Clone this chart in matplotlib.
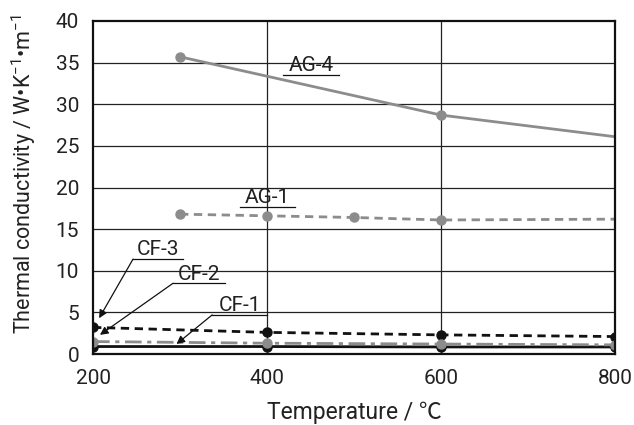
"""
Thermal conductivity of AG / CF samples versus temperature.
"""
import matplotlib
matplotlib.use('Agg')
import matplotlib.pyplot as plt

FONT = ['Roboto', 'Noto Sans CJK JP', 'DejaVu Sans']
plt.rcParams['font.family'] = FONT
plt.rcParams['mathtext.fontset'] = 'custom'
plt.rcParams['mathtext.rm'] = 'Roboto'
plt.rcParams['mathtext.default'] = 'regular'

# --- data ---
ag4_temp = [300, 600, 800]
ag4_k = [35.7, 28.7, 26.1]

ag1_temp = [300, 400, 500, 600, 800]
ag1_k = [16.8, 16.6, 16.4, 16.1, 16.2]

cf_temp = [200, 400, 600, 800]
cf3_k = [3.2, 2.6, 2.3, 2.1]
cf2_k = [1.5, 1.3, 1.2, 1.1]
cf1_k = [0.9, 0.9, 0.85, 0.85]

x_ticks = [200, 400, 600, 800]
y_ticks = [0, 5, 10, 15, 20, 25, 30, 35, 40]

# label name, underline start (x, y), underline end x, arrow tip or None
labels = [
    ('AG-4', (418, 33.5), 483, None),
    ('AG-1', (369, 17.7), 432, None),
    ('CF-3', (246, 11.4), 303, (207, 4.3)),
    ('CF-2', (292, 8.5), 352, (208, 2.3)),
    ('CF-1', (337, 4.7), 400, (296, 1.2)),
]

GRAY = '#8c8c8c'
BLACK = '#111111'
TEXT = '#222222'
FS = 15

fig, ax = plt.subplots(figsize=(6.34, 4.25), dpi=100)
plt.subplots_adjust(left=0.1467, right=0.970, top=0.9506, bottom=0.167)

# grid
for x in x_ticks[1:-1]:
    ax.axvline(x, color='#222222', linewidth=0.9, zorder=1)
for y in y_ticks[1:-1]:
    ax.axhline(y, color='#222222', linewidth=0.9, zorder=1)

ms = 6.5
ax.plot(ag4_temp, ag4_k, color=GRAY, linewidth=2.0, marker='o', markersize=ms,
        markevery=[0, 1], zorder=3)
ax.plot(ag1_temp, ag1_k, color=GRAY, linewidth=2.0, linestyle=(0, (3, 2)),
        marker='o', markersize=ms, markevery=[0, 1, 2, 3], zorder=3)
ax.plot(cf_temp, cf1_k, color=BLACK, linewidth=2.0, marker='o', markersize=ms,
        zorder=3)
ax.plot(cf_temp, cf3_k, color=BLACK, linewidth=2.0, linestyle=(0, (3, 2)),
        marker='o', markersize=ms, zorder=4)
ax.plot(cf_temp, cf2_k, color=GRAY, linewidth=2.0,
        linestyle=(0, (6, 2, 1.5, 2)), marker='o', markersize=ms, zorder=5)

# underlined labels with arrows
for name, (x0, y0), x1, tip in labels:
    ax.plot([x0, x1], [y0, y0], color=BLACK, linewidth=0.9, zorder=6)
    ax.text((x0 + x1) / 2, y0 + 0.45, name, ha='center', va='baseline',
            fontsize=FS, color=TEXT, zorder=6)
    if tip is not None:
        ax.annotate('', xy=tip, xytext=(x0, y0),
                    arrowprops=dict(arrowstyle='-|>', color=BLACK, lw=0.9,
                                    mutation_scale=12, shrinkA=0, shrinkB=0),
                    zorder=6)

ax.set_xlim(200, 800)
ax.set_ylim(0, 40)
ax.set_xticks(x_ticks)
ax.set_yticks(y_ticks)
ax.tick_params(axis='both', length=0, labelsize=FS, colors=TEXT)
ax.tick_params(axis='x', pad=11)
ax.tick_params(axis='y', pad=10)

ax.set_xlabel('Temperature / ℃', fontsize=16.5, color=TEXT, va='center')
ax.xaxis.set_label_coords(0.5, -0.177)
ax.set_ylabel('Thermal conductivity / W•K$^{-1}$•m$^{-1}$', fontsize=15.5,
              color=TEXT, va='center')
ax.yaxis.set_label_coords(-0.132, 0.54)

for side in ['bottom', 'left', 'top', 'right']:
    ax.spines[side].set_linewidth(1.6)
    ax.spines[side].set_color(BLACK)
    ax.spines[side].set_zorder(7)

plt.savefig('out.png', dpi=100)
plt.close()
